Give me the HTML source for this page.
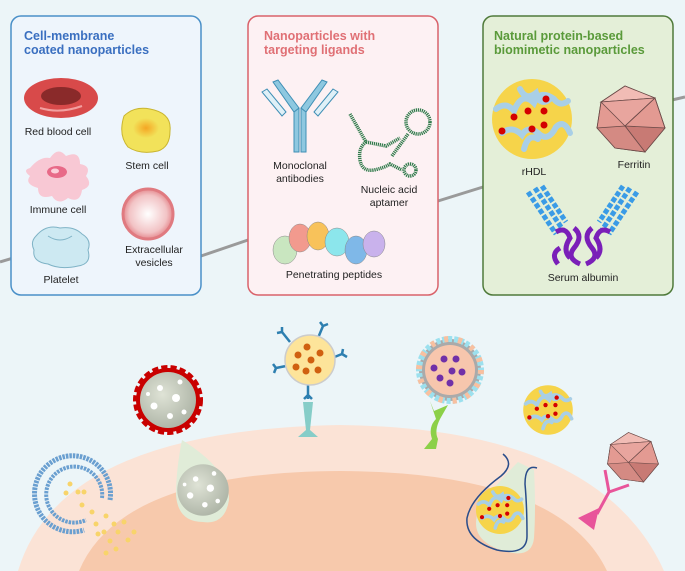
<!DOCTYPE html>
<html><head><meta charset="utf-8"><style>
html,body{margin:0;padding:0;background:#ecf5f8;}
svg{display:block;font-family:"Liberation Sans",sans-serif;}
.lbl{font-size:10.5px;fill:#222;text-anchor:middle;}
.ttl{font-size:12.5px;font-weight:bold;}
</style></head><body>
<svg width="685" height="571" viewBox="0 0 685 571">
<defs>
<radialGradient id="grey" cx="0.4" cy="0.4" r="0.7"><stop offset="0" stop-color="#dfe3d6"/><stop offset="1" stop-color="#a9b0a2"/></radialGradient>
<radialGradient id="ev" cx="0.5" cy="0.5" r="0.5"><stop offset="0" stop-color="#fff"/><stop offset="0.75" stop-color="#f2c3c5"/><stop offset="1" stop-color="#e58a8f"/></radialGradient>
<radialGradient id="yel" cx="0.5" cy="0.5" r="0.5"><stop offset="0" stop-color="#f5a623"/><stop offset="1" stop-color="#f2e25a"/></radialGradient>
<g id="hdl">
<circle r="40" fill="#f6d44a"/>
<path d="M-36,-10 q10,-8 18,2 q8,-20 20,-8 q6,-14 20,-4 q6,8 14,2 M-30,14 q10,-8 20,2 q6,-10 16,-2 q10,10 18,-6 q8,-8 14,6 M-12,-30 q6,12 16,4 q4,14 14,6 M-8,30 q4,-16 14,-10" fill="none" stroke="#a9cfe6" stroke-width="6" stroke-linecap="round"/>
<g fill="#d40000"><circle cx="-18" cy="-2" r="3.5"/><circle cx="-4" cy="-8" r="3.5"/><circle cx="12" cy="-8" r="3.5"/><circle cx="14" cy="-20" r="3.5"/><circle cx="-30" cy="12" r="3.5"/><circle cx="0" cy="10" r="3.5"/><circle cx="12" cy="6" r="3.5"/></g>
</g>
<g id="ico">
<polygon points="-6,-34 24,-22 34,8 14,32 -16,28 -34,8 -30,-18" fill="#e39a92" stroke="#6b4a48" stroke-width="0.8"/>
<polygon points="-30,-18 -6,-34 24,-22" fill="#f1bcb5" stroke="#6b4a48" stroke-width="0.8"/>
<polygon points="-30,-18 24,-22 -6,6" fill="#e8a59e" stroke="#6b4a48" stroke-width="0.8"/>
<polygon points="-6,6 34,8 14,32" fill="#c87a74" stroke="#6b4a48" stroke-width="0.8"/>
<polygon points="-6,6 14,32 -16,28 -34,8" fill="#d48a83" stroke="#6b4a48" stroke-width="0.8"/>
<line x1="24" y1="-22" x2="-6" y2="6" stroke="#6b4a48" stroke-width="0.8"/>
<line x1="24" y1="-22" x2="34" y2="8" stroke="#6b4a48" stroke-width="0.8"/>
<line x1="-30" y1="-18" x2="-34" y2="8" stroke="#6b4a48" stroke-width="0.8"/>
</g>
<g id="greysphere"><circle r="28" fill="url(#grey)"/><g fill="#fff"><circle cx="-8" cy="-12" r="3"/><circle cx="8" cy="-2" r="4"/><circle cx="-14" cy="6" r="3.5"/><circle cx="2" cy="16" r="3"/><circle cx="16" cy="12" r="2.5"/><circle cx="12" cy="-18" r="2.5"/><circle cx="-20" cy="-6" r="2"/></g></g>
</defs>

<rect width="685" height="571" fill="#ecf5f8"/>
<polyline points="0,262 40,250" stroke="#9a9a9a" stroke-width="3" fill="none"/>
<line x1="201" y1="256" x2="248" y2="240" stroke="#9a9a9a" stroke-width="3"/>
<line x1="438" y1="201" x2="483" y2="187" stroke="#9a9a9a" stroke-width="3"/>
<line x1="672" y1="100" x2="685" y2="97" stroke="#9a9a9a" stroke-width="3"/>

<!-- Box 1 -->
<g>
<rect x="11" y="16" width="190" height="279" rx="10" fill="#eef5fc" stroke="#4a90c8" stroke-width="1.5"/>
<text x="24" y="40" class="ttl" fill="#3a6fc0">Cell-membrane</text>
<text x="24" y="54" class="ttl" fill="#3a6fc0">coated nanoparticles</text>
<g><ellipse cx="61" cy="98" rx="37" ry="20" fill="#d84a4a"/><ellipse cx="61" cy="96" rx="20" ry="9" fill="#8a2a2a"/><path d="M40,108 q20,6 42,-2" stroke="#f2a0a0" stroke-width="2" fill="none"/></g>
<text x="58" y="135" class="lbl">Red blood cell</text>
<g><path d="M124,116 q10,-10 26,-7 q22,4 20,22 q0,16 -12,20 q-18,4 -30,-4 q-10,-12 -4,-31z" fill="#f2e25a" stroke="#c9b530"/><ellipse cx="146" cy="128" rx="13" ry="10" fill="url(#yel)"/></g>
<text x="147" y="169" class="lbl">Stem cell</text>
<g><path d="M30,168 q10,-12 20,-10 q8,-12 16,-2 q14,-6 14,8 q12,2 6,12 q8,10 -4,14 q-2,14 -14,8 q-10,8 -16,-2 q-14,4 -14,-8 q-14,-4 -8,-12 q-8,-6 0,-8z" fill="#f8c8d4"/><ellipse cx="57" cy="172" rx="10" ry="6" fill="#e86a88"/><ellipse cx="55" cy="171" rx="4" ry="2.5" fill="#fbd0da"/></g>
<text x="58" y="213" class="lbl">Immune cell</text>
<g><path d="M36,236 q10,-12 24,-8 q14,-2 22,6 q10,6 6,16 q4,14 -10,16 q-18,4 -30,-2 q-16,-2 -14,-14 q-4,-8 2,-14z" fill="#cde9f2" stroke="#7fb3c6"/><path d="M48,236 q12,8 24,0" stroke="#7fb3c6" fill="none"/></g>
<text x="61" y="283" class="lbl">Platelet</text>
<g><ellipse cx="148" cy="214" rx="25" ry="25" fill="url(#ev)" stroke="#e07a80" stroke-width="3"/></g>
<text x="154" y="253" class="lbl">Extracellular</text>
<text x="154" y="266" class="lbl">vesicles</text>
</g>

<!-- Box 2 -->
<g>
<rect x="248" y="16" width="190" height="279" rx="10" fill="#fdf1f3" stroke="#d9626a" stroke-width="1.5"/>
<text x="264" y="40" class="ttl" fill="#e07075">Nanoparticles with</text>
<text x="264" y="54" class="ttl" fill="#e07075">targeting ligands</text>
<g fill="#8ec8e0" stroke="#3f8fb5" stroke-width="1">
<rect x="294" y="108" width="5" height="44"/><rect x="301" y="108" width="5" height="44"/>
<polygon points="273,82 278,80 299,108 294,112"/><polygon points="327,82 322,80 301,108 306,112"/>
<polygon points="262,92 267,89 286,112 282,116" fill="#dff0f7"/><polygon points="338,92 333,89 314,112 318,116" fill="#dff0f7"/>
</g>
<text x="300" y="169" class="lbl">Monoclonal</text>
<text x="300" y="182" class="lbl">antibodies</text>
<g fill="none" stroke="#2f7a4a" stroke-width="3.5" stroke-dasharray="1.2 0.8">
<path d="M350,114 l16,28"/><path d="M366,142 q-8,6 -6,18 q2,12 14,10 q10,-2 16,-6 l12,6"/>
<circle cx="410" cy="170" r="6"/><path d="M392,156 l16,-22"/><circle cx="418" cy="122" r="12"/><path d="M366,142 l20,4 l14,-8"/>
</g>
<text x="389" y="193" class="lbl">Nucleic acid</text>
<text x="389" y="206" class="lbl">aptamer</text>
<g stroke="#888" stroke-width="0.5">
<ellipse cx="285" cy="250" rx="12" ry="14" fill="#c9e6c0"/><ellipse cx="300" cy="238" rx="11" ry="14" fill="#f29a8e"/><ellipse cx="318" cy="236" rx="11" ry="14" fill="#f8c25a"/><ellipse cx="337" cy="242" rx="12" ry="14" fill="#8ce6ec"/><ellipse cx="356" cy="250" rx="11" ry="14" fill="#7fb8e8"/><ellipse cx="374" cy="244" rx="11" ry="13" fill="#c9b2ec"/>
</g>
<text x="334" y="278" class="lbl">Penetrating peptides</text>
</g>

<!-- Box 3 -->
<g>
<rect x="483" y="16" width="190" height="279" rx="10" fill="#e4efd8" stroke="#4f7a3a" stroke-width="1.5"/>
<text x="494" y="40" class="ttl" fill="#5a9a3a">Natural protein-based</text>
<text x="494" y="54" class="ttl" fill="#5a9a3a">biomimetic nanoparticles</text>
<use href="#hdl" transform="translate(532,119)"/>
<text x="534" y="175" class="lbl">rHDL</text>
<use href="#ico" transform="translate(631,120)"/>
<text x="634" y="168" class="lbl">Ferritin</text>
<g>
<path d="M528,192 l28,42 M535,188 l28,42 M542,186 l24,36" stroke="#3a9be6" stroke-width="5" stroke-dasharray="5 2"/>
<path d="M637,192 l-28,42 M630,188 l-28,42 M623,186 l-24,36" stroke="#3a9be6" stroke-width="5" stroke-dasharray="5 2"/>
<path d="M556,232 q10,-6 14,6 q-8,12 0,20 M574,228 q10,8 0,20 q-8,10 6,16 M592,228 q-10,8 0,20 q8,10 -6,16 M610,232 q-10,-6 -14,6 q8,12 0,20 M560,248 q-10,6 -2,16" fill="none" stroke="#7a1fb8" stroke-width="5"/>
</g>
<text x="583" y="281" class="lbl">Serum albumin</text>
</g>

<!-- Cell -->
<path d="M18,571 Q60,430 340,425 Q600,428 664,571 Z" fill="#fbe3d6"/>
<path d="M79,571 Q120,472 340,471 Q560,472 607,571 Z" fill="#f7c9ac"/>

<!-- liposome -->
<g>
<path d="M110,500 A38,38 0 1 0 84,530" fill="none" stroke="#6a9fd0" stroke-width="5" stroke-dasharray="2.5 1"/>
<path d="M102,498 A28,28 0 1 0 86,520" fill="none" stroke="#6a9fd0" stroke-width="4" stroke-dasharray="2.5 1"/>
<g fill="#f8d46a"><circle cx="70" cy="484" r="2.5"/><circle cx="78" cy="492" r="2.5"/><circle cx="66" cy="493" r="2.5"/><circle cx="84" cy="492" r="2.5"/><circle cx="82" cy="505" r="2.5"/><circle cx="92" cy="512" r="2.5"/><circle cx="96" cy="524" r="2.5"/><circle cx="106" cy="516" r="2.5"/><circle cx="104" cy="532" r="2.5"/><circle cx="114" cy="524" r="2.5"/><circle cx="118" cy="532" r="2.5"/><circle cx="124" cy="522" r="2.5"/><circle cx="110" cy="541" r="2.5"/><circle cx="128" cy="540" r="2.5"/><circle cx="98" cy="534" r="2.5"/><circle cx="116" cy="549" r="2.5"/><circle cx="106" cy="553" r="2.5"/><circle cx="134" cy="532" r="2.5"/></g>
</g>
<!-- red coated -->
<g>
<circle cx="168" cy="400" r="32" fill="#c90000" stroke="#c90000" stroke-width="6" stroke-dasharray="6 3"/>
<use href="#greysphere" transform="translate(168,400)"/>
</g>
<g>
<path d="M182,440 Q230,470 229,500 Q225,525 203,522 Q178,522 176,495 Q176,470 182,440Z" fill="#e0ecd8"/>
<use href="#greysphere" transform="translate(203,490) scale(0.92)"/>
</g>
<!-- antibody NP -->
<g>
<g stroke="#2d7fb0" stroke-width="2.5" fill="none">
<path d="M308,385 v14 m0,-4 l-4,4 m4,-4 l4,4"/>
<path d="M318,338 l5,-12 m0,0 l-3,-4 m3,4 l5,-2"/>
<path d="M290,342 l-8,-10 m0,0 l-5,1 m5,-1 l0,-5"/>
<path d="M332,358 l10,-4 m0,0 l1,-5 m-1,5 l5,3"/>
<path d="M286,366 l-10,2 m0,0 l-3,-4 m3,4 l-2,5"/>
</g>
<circle cx="310" cy="360" r="25" fill="#fde49a" stroke="#ccc" stroke-width="1.5"/>
<g fill="#d06010"><circle cx="307" cy="347" r="3.5"/><circle cx="298" cy="355" r="3.5"/><circle cx="320" cy="353" r="3.5"/><circle cx="311" cy="360" r="3.5"/><circle cx="296" cy="367" r="3.5"/><circle cx="306" cy="371" r="3.5"/><circle cx="318" cy="370" r="3.5"/></g>
<path d="M303,402 h10 l-3,28 l8,7 h-20 l8,-7z" fill="#86cdc8"/>
</g>
<!-- bead liposome -->
<g>
<circle cx="450" cy="370" r="31" fill="#aaa"/>
<circle cx="450" cy="370" r="31" fill="none" stroke="#9ce0ee" stroke-width="6" stroke-dasharray="4 2"/>
<circle cx="450" cy="370" r="31" fill="none" stroke="#f8c0a0" stroke-width="6" stroke-dasharray="4 10"/>
<circle cx="450" cy="370" r="25" fill="#f7c6ad"/>
<g fill="#7030a8"><circle cx="444" cy="359" r="3.5"/><circle cx="456" cy="359" r="3.5"/><circle cx="434" cy="368" r="3.5"/><circle cx="452" cy="371" r="3.5"/><circle cx="462" cy="372" r="3.5"/><circle cx="440" cy="378" r="3.5"/><circle cx="450" cy="383" r="3.5"/></g>
<path d="M430,401 l4,10 l14,-6 l-8,14 q-6,12 -2,20 l-2,10 h-12 l8,-10 q-4,-12 4,-20z" fill="#8cd048"/>
</g>
<use href="#hdl" transform="translate(548,410) scale(0.62)"/>
<g>
<path d="M518,462 q-30,30 -40,50 q-10,30 30,40 q24,6 26,-14 q2,-30 0,-68" fill="#e0ecd8" stroke="none"/>
<path d="M503,454 q12,10 -2,22 q-30,22 -34,42 q-2,22 30,32 q30,6 30,-14 q0,-30 -2,-52 q0,-20 12,-16" fill="none" stroke="#2a4d8a" stroke-width="1.5"/>
<use href="#hdl" transform="translate(500,510) scale(0.6)"/>
</g>
<use href="#ico" transform="translate(633,458) scale(0.75)"/>
<g>
<path d="M605,470 l4,22 m0,0 l-12,22 m12,-22 l20,-7" stroke="#e8549a" stroke-width="3" fill="none"/>
<polygon points="599,508 578,518 594,530" fill="#e8549a"/>
</g>
</svg>
</body></html>
